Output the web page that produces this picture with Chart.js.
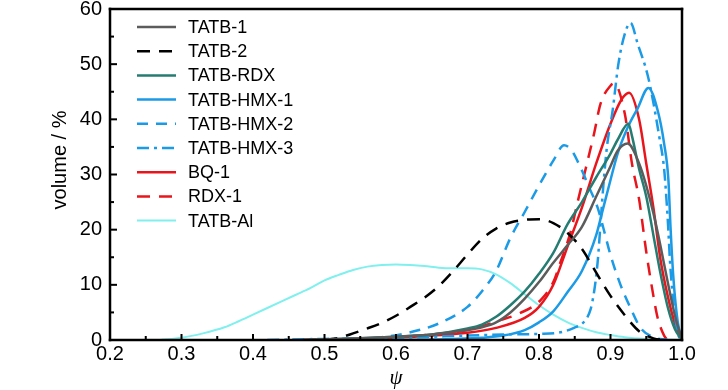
<!DOCTYPE html>
<html>
<head>
<meta charset="utf-8">
<script src="https://cdn.jsdelivr.net/npm/chart.js@4.4.1/dist/chart.umd.min.js"></script>
</head>
<body style="margin:0">
<canvas id="chart" width="728" height="390"></canvas>
<script>
// psi values and volume fractions
const tatb1X = [0.47, 0.55, 0.60, 0.65, 0.70, 0.72, 0.74, 0.76, 0.78, 0.80, 0.82, 0.84, 0.86, 0.88, 0.90, 0.91, 0.924, 0.94, 0.95, 0.96, 0.97, 0.98, 0.99, 1.0];
const tatb1Y = [0, 0.3, 0.6, 1.0, 1.8, 2.3, 3.2, 5.0, 7.5, 10.5, 14.0, 17.2, 20.5, 26.0, 31.5, 34.3, 35.6, 32.0, 28.0, 23.0, 17.0, 10.5, 4.5, 0];

const tatb2X = [0.50, 0.52, 0.54, 0.56, 0.58, 0.60, 0.62, 0.64, 0.66, 0.68, 0.70, 0.72, 0.74, 0.76, 0.78, 0.80, 0.82, 0.84, 0.86, 0.88, 0.90, 0.92, 0.94, 0.96, 0.98];
const tatb2Y = [0, 0.4, 1.2, 2.1, 3.1, 4.4, 6.0, 7.7, 9.8, 12.5, 15.5, 18.3, 20.2, 21.3, 21.8, 21.9, 21.2, 19.4, 16.5, 12.2, 8.0, 4.5, 1.6, 0.3, 0];

const tatbRdxX = [0.47, 0.55, 0.60, 0.65, 0.70, 0.72, 0.74, 0.76, 0.78, 0.80, 0.82, 0.84, 0.86, 0.88, 0.90, 0.91, 0.925, 0.93, 0.94, 0.95, 0.96, 0.97, 0.98, 0.99, 1.0];
const tatbRdxY = [0, 0.3, 0.6, 1.0, 2.1, 2.8, 4.2, 6.3, 8.8, 12.0, 15.8, 21.0, 25.0, 29.5, 33.8, 36.3, 39.2, 37.0, 31.0, 26.0, 19.0, 12.0, 6.0, 2.0, 0];

const hmx1X = [0.60, 0.68, 0.72, 0.75, 0.78, 0.80, 0.82, 0.84, 0.86, 0.88, 0.89, 0.90, 0.91, 0.924, 0.938, 0.953, 0.966, 0.975, 0.981, 0.984, 0.988, 0.994, 1.0];
const hmx1Y = [0, 0.2, 0.4, 0.8, 1.8, 3.2, 5.2, 8.7, 12.5, 19.0, 24.0, 29.0, 33.8, 38.5, 42.0, 45.7, 41.6, 35.6, 29.0, 20.3, 11.2, 3.3, 0];

const hmx2X = [0.54, 0.58, 0.62, 0.66, 0.70, 0.72, 0.74, 0.76, 0.78, 0.80, 0.82, 0.835, 0.845, 0.858, 0.87, 0.882, 0.89, 0.90, 0.914, 0.928, 0.942, 0.96, 0.98];
const hmx2Y = [0, 0.5, 1.4, 3.0, 6.0, 8.8, 12.5, 18.5, 23.2, 28.0, 32.5, 35.3, 34.5, 31.3, 27.7, 24.0, 20.3, 15.4, 10.0, 5.8, 2.2, 0.5, 0];

const hmx3X = [0.42, 0.50, 0.60, 0.70, 0.75, 0.80, 0.826, 0.849, 0.863, 0.872, 0.877, 0.882, 0.886, 0.89, 0.895, 0.903, 0.911, 0.92, 0.928, 0.938, 0.952, 0.96, 0.968, 0.975, 0.98, 0.984, 0.994, 1.0];
const hmx3Y = [0, 0.2, 0.4, 0.8, 1.0, 1.1, 1.3, 2.2, 3.3, 5.5, 8.7, 14.1, 21.0, 28.0, 35.0, 41.6, 50.0, 55.5, 57.5, 53.7, 48.0, 43.0, 37.0, 31.0, 22.0, 12.7, 1.3, 0];

const bq1X = [0.47, 0.55, 0.60, 0.65, 0.70, 0.74, 0.78, 0.80, 0.82, 0.84, 0.86, 0.88, 0.90, 0.915, 0.926, 0.94, 0.95, 0.96, 0.97, 0.98, 0.99, 1.0];
const bq1Y = [0, 0.2, 0.4, 0.8, 1.3, 2.2, 4.0, 6.0, 10.0, 17.0, 24.0, 32.0, 39.2, 43.5, 44.8, 40.0, 32.0, 24.0, 14.5, 8.0, 3.0, 0];

const rdx1X = [0.47, 0.55, 0.60, 0.65, 0.70, 0.746, 0.774, 0.802, 0.82, 0.83, 0.844, 0.854, 0.868, 0.877, 0.886, 0.90, 0.905, 0.92, 0.93, 0.94, 0.95, 0.96, 0.966, 0.975, 0.98];
const rdx1Y = [0, 0.2, 0.5, 1.0, 1.8, 3.6, 4.9, 7.2, 10.5, 14.1, 19.5, 25.0, 32.5, 37.4, 42.8, 46.1, 46.5, 41.0, 32.0, 25.5, 16.0, 8.0, 4.0, 0.8, 0];

const tatbAlX = [0.27, 0.30, 0.33, 0.36, 0.38, 0.40, 0.42, 0.44, 0.46, 0.48, 0.50, 0.52, 0.54, 0.56, 0.58, 0.60, 0.62, 0.64, 0.66, 0.68, 0.70, 0.72, 0.74, 0.76, 0.78, 0.80, 0.82, 0.84, 0.86, 0.88, 0.90, 0.92, 0.95, 1.0];
const tatbAlY = [0, 0.4, 1.2, 2.3, 3.4, 4.6, 5.8, 7.0, 8.2, 9.4, 10.8, 11.8, 12.7, 13.3, 13.6, 13.7, 13.6, 13.4, 13.1, 13.0, 13.0, 12.8, 11.9, 10.3, 8.3, 6.3, 4.6, 3.2, 2.2, 1.4, 0.9, 0.5, 0.2, 0];

const xTickValues = [0.2, 0.3, 0.4, 0.5, 0.6, 0.7, 0.8, 0.9, 1.0];
const xMinorValues = [0.25, 0.35, 0.45, 0.55, 0.65, 0.75, 0.85, 0.95];
const yTickValues = [0, 10, 20, 30, 40, 50, 60];
const yMinorValues = [5, 15, 25, 35, 45, 55];

function pts(xs, ys) {
    return xs.map((x, i) => ({ x, y: ys[i] }));
}

function series(label, xs, ys, color, dash, width) {
    return {
        label,
        data: pts(xs, ys),
        borderColor: color,
        borderDash: dash || [],
        borderWidth: width || 2.5,
        pointRadius: 0,
        fill: false,
        cubicInterpolationMode: 'monotone'
    };
}

const BLUE = '#1b9ae6';
const RED = '#e8161c';

const datasets = [
    series('TATB-1', tatb1X, tatb1Y, '#5c5c5c'),
    series('TATB-2', tatb2X, tatb2Y, '#000000', [13, 9]),
    series('TATB-RDX', tatbRdxX, tatbRdxY, '#257c72'),
    series('TATB-HMX-1', hmx1X, hmx1Y, BLUE),
    series('TATB-HMX-2', hmx2X, hmx2Y, BLUE, [11, 8]),
    series('TATB-HMX-3', hmx3X, hmx3Y, BLUE, [12, 5, 3, 5]),
    series('BQ-1', bq1X, bq1Y, RED),
    series('RDX-1', rdx1X, rdx1Y, RED, [13, 9]),
    series('TATB-Al', tatbAlX, tatbAlY, '#80f0ee', [], 2)
];

// box, inward ticks and axis titles
const framePlugin = {
    id: 'frame',
    afterDraw(chart) {
        const ctx = chart.ctx;
        const sx = chart.scales.x, sy = chart.scales.y;
        const left = sx.left, right = sx.right, top = sy.top, bottom = sy.bottom;
        ctx.save();
        ctx.fillStyle = '#000000';
        const w = 2.5;
        ctx.fillRect(left - w / 2, top - w / 2, right - left + w, w);
        ctx.fillRect(left - w / 2, bottom - w / 2, right - left + w, w);
        ctx.fillRect(left - w / 2, top - w / 2, w, bottom - top + w);
        ctx.fillRect(right - w / 2, top - w / 2, w, bottom - top + w);

        xTickValues.forEach(v => ctx.fillRect(sx.getPixelForValue(v) - 1, bottom - 6, 2, 6));
        xMinorValues.forEach(v => ctx.fillRect(sx.getPixelForValue(v) - 1, bottom - 4, 2, 4));
        yTickValues.forEach(v => ctx.fillRect(left, sy.getPixelForValue(v) - 1, 7, 2));
        yMinorValues.forEach(v => ctx.fillRect(left, sy.getPixelForValue(v) - 1, 4, 2));

        ctx.textAlign = 'center';
        ctx.textBaseline = 'middle';
        ctx.font = "20px 'Liberation Sans', Arial, sans-serif";
        ctx.save();
        ctx.translate(60, 160);
        ctx.rotate(-Math.PI / 2);
        ctx.fillText('volume / %', 0, 0);
        ctx.restore();
        ctx.font = "italic 21px 'Liberation Serif', serif";
        ctx.fillText('\u03C8', (left + right) / 2, 378);
        ctx.restore();
    }
};

// legend inside the plot, upper left
const legendPlugin = {
    id: 'innerLegend',
    afterDraw(chart) {
        const ctx = chart.ctx;
        ctx.save();
        ctx.font = "18px 'Liberation Sans', Arial, sans-serif";
        ctx.textAlign = 'left';
        ctx.textBaseline = 'middle';
        chart.data.datasets.forEach((ds, i) => {
            const y = 27 + i * 24.2;
            ctx.strokeStyle = ds.borderColor;
            ctx.lineWidth = ds.borderWidth;
            ctx.setLineDash(ds.borderDash);
            ctx.beginPath();
            ctx.moveTo(137, y);
            ctx.lineTo(176, y);
            ctx.stroke();
            ctx.fillStyle = '#000000';
            ctx.fillText(ds.label, 188, y + 1);
        });
        ctx.restore();
    }
};

new Chart(document.getElementById('chart').getContext('2d'), {
    type: 'line',
    data: { datasets },
    options: {
        responsive: false,
        animation: false,
        layout: { padding: { top: 9, right: 46, left: 0, bottom: 0 } },
        scales: {
            x: {
                type: 'linear',
                min: 0.2,
                max: 1.0,
                grid: { display: false, drawTicks: false },
                border: { display: false },
                afterBuildTicks: s => { s.ticks = xTickValues.map(v => ({ value: v })); },
                afterFit: s => { s.height = 50; s.paddingLeft = 0; s.paddingRight = 0; },
                ticks: {
                    color: '#000',
                    padding: 2,
                    font: { family: "'Liberation Sans', Arial", size: 20 },
                    callback: v => v.toFixed(1)
                }
            },
            y: {
                min: 0,
                max: 60,
                grid: { display: false, drawTicks: false },
                border: { display: false },
                afterBuildTicks: s => { s.ticks = yTickValues.map(v => ({ value: v })); },
                afterFit: s => { s.width = 110; s.paddingTop = 0; s.paddingBottom = 0; },
                ticks: {
                    color: '#000',
                    padding: 8,
                    font: { family: "'Liberation Sans', Arial", size: 20 }
                }
            }
        },
        plugins: {
            legend: { display: false },
            tooltip: { enabled: false }
        }
    },
    plugins: [framePlugin, legendPlugin]
});
</script>
</body>
</html>
